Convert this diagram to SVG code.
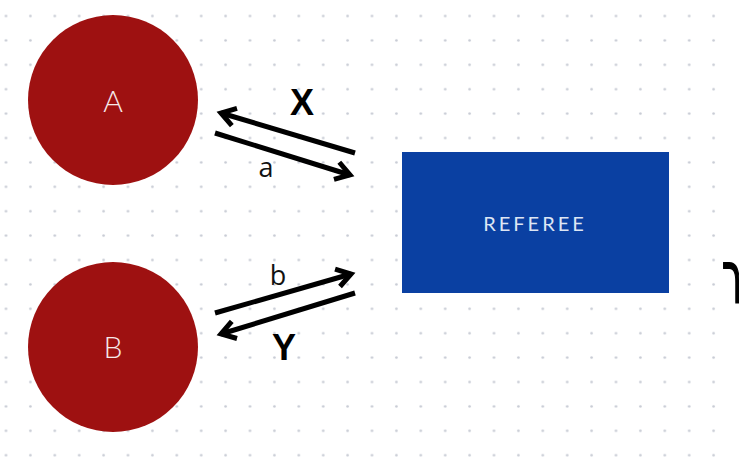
<svg xmlns="http://www.w3.org/2000/svg" width="739" height="458" viewBox="0 0 739 458">
  <style>
    .node-circle { fill: #9e1111; }
    .node-rect { fill: #0a40a2; }
    .node-label { font-family: Lato, "Open Sans", sans-serif; font-weight: 300; font-size: 30px; fill: #f6e9e9; text-anchor: middle; }
    .ref-label { font-family: Lato, "Open Sans", sans-serif; font-size: 20px; fill: #dde6f4; text-anchor: middle; letter-spacing: 3px; }
    .conn { stroke: #000; stroke-width: 5; fill: none; marker-end: url(#head); }
    .big { font-family: "Liberation Sans", Arial, sans-serif; font-weight: bold; font-size: 36px; fill: #000; text-anchor: middle; }
    .small { font-family: "Open Sans", "DejaVu Sans", sans-serif; font-size: 27px; fill: #111; text-anchor: middle; }
  </style>
  <defs>
    <pattern id="dots" patternUnits="userSpaceOnUse" x="-6.2" y="3.8" width="24.4" height="24.4">
      <circle cx="12.2" cy="12.2" r="1.3" fill="#c6cad3"/>
    </pattern>
    <marker id="head" markerUnits="userSpaceOnUse" viewBox="-20 -12 24 24" refX="0" refY="0" markerWidth="24" markerHeight="24" orient="auto" overflow="visible">
      <path d="M-14,-9 L0,0 L-14,9" fill="none" stroke="#000" stroke-width="5" stroke-linejoin="miter" stroke-linecap="butt"/>
    </marker>
  </defs>
  <rect width="739" height="458" fill="#ffffff"/>
  <rect x="0" y="0" width="722" height="458" fill="url(#dots)"/>

  <g id="node-A">
    <circle class="node-circle" cx="113" cy="100" r="85"/>
    <text class="node-label" x="113" y="112">A</text>
  </g>
  <g id="node-B">
    <circle class="node-circle" cx="113" cy="347" r="85"/>
    <text class="node-label" x="113" y="358">B</text>
  </g>
  <g id="node-referee">
    <rect class="node-rect" x="402" y="152" width="267" height="141"/>
    <text class="ref-label" x="535" y="231">REFEREE</text>
  </g>

  <g id="connectors">
    <line class="conn" x1="355" y1="153" x2="221" y2="113"/>
    <line class="conn" x1="215" y1="133" x2="350" y2="175"/>
    <line class="conn" x1="215" y1="313" x2="351" y2="274"/>
    <line class="conn" x1="355" y1="293" x2="221" y2="334"/>
    <text class="big" x="302" y="115">X</text>
    <text class="small" x="266" y="177">a</text>
    <text class="small" x="278" y="285">b</text>
    <text class="big" x="284" y="360">Y</text>
  </g>

  <text transform="translate(722 302) scale(0.5 1)" font-family="DejaVu Sans, sans-serif" font-size="72" fill="#000" stroke="#000" stroke-width="2">ר</text>
</svg>
